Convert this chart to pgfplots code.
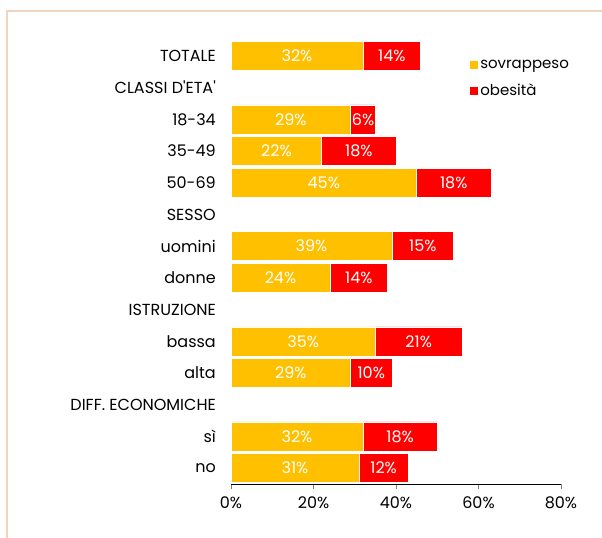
\documentclass[border=0pt]{standalone}
\usepackage{fontspec}
\setmainfont{Poppins}
\usepackage{pgfplots}
\pgfplotsset{compat=1.18}
\definecolor{sovr}{RGB}{255,192,0}
\definecolor{obes}{RGB}{255,0,0}
\definecolor{cornice}{RGB}{242,213,192}
\begin{document}
\begin{tikzpicture}
\useasboundingbox (0,0) rectangle (602bp,538bp);
\draw[cornice, line width=1.5bp] (7bp,0) -- (7bp,527bp) -- (602bp,527bp);
\begin{axis}[
  at={(231bp,54bp)}, anchor=south west,
  scale only axis, width=330bp, height=444bp,
  xbar stacked, bar width=29bp,
  xmin=0, xmax=80, ymin=-0.5, ymax=13.5,
  axis x line*=bottom, axis y line*=left,
  y axis line style={draw=none},
  xtick={0,20,40,60,80}, xticklabels={0\%,20\%,40\%,60\%,80\%},
  xtick align=outside, major tick length=5bp,
  ytick={0,...,13},
  yticklabels={no,sì,DIFF. ECONOMICHE,alta,bassa,ISTRUZIONE,donne,uomini,SESSO,50-69,35-49,18-34,CLASSI D\textquotesingle ETA\textquotesingle,TOTALE},
  ytick style={draw=none},
  yticklabel style={font=\fontsize{16bp}{18bp}\selectfont, text=black, inner sep=0pt, xshift=-15bp},
  xticklabel style={font=\fontsize{16bp}{18bp}\selectfont, text=black, yshift=-4bp},
  point meta=explicit,
  nodes near coords={\pgfmathfloattoint{\pgfplotspointmeta}\pgfmathresult\%},
  every node near coord/.append style={font=\fontsize{16bp}{18bp}\selectfont, text=white, anchor=center},
  legend style={at={(0.72,0.96)}, anchor=north west, draw=none, fill=none,
    font=\fontsize{15bp}{17bp}\selectfont, row sep=10bp, inner sep=0pt},
  legend cell align=left,
  legend image code/.code={\fill[#1] (0bp,-4.5bp) rectangle (9bp,4.5bp);},
]
\addplot[fill=sovr, draw=white, line width=0.5pt]
  coordinates {(32,13)[32] (29,11)[29] (22,10)[22] (45,9)[45] (39,7)[39] (24,6)[24] (35,4)[35] (29,3)[29] (32,1)[32] (31,0)[31]};
\addlegendentry{sovrappeso}
\addplot[fill=obes, draw=white, line width=0.5pt]
  coordinates {(14,13)[14] (6,11)[6] (18,10)[18] (18,9)[18] (15,7)[15] (14,6)[14] (21,4)[21] (10,3)[10] (18,1)[18] (12,0)[12]};
\addlegendentry{obesità}
\end{axis}
\end{tikzpicture}
\end{document}
